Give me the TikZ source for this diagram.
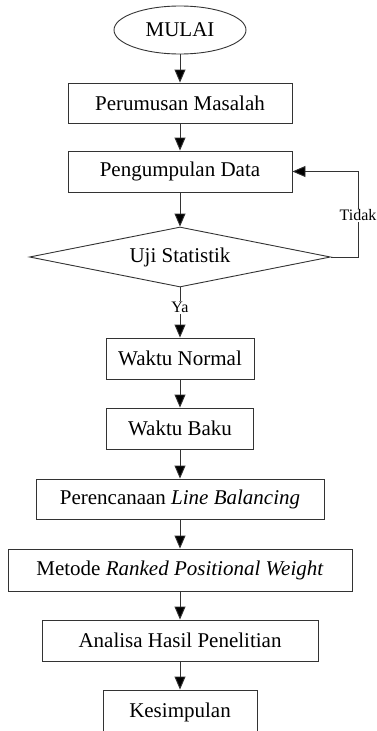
\documentclass[tikz,border=0pt]{standalone}
\usepackage{fontspec}
\setmainfont{Liberation Serif}
\usetikzlibrary{shapes.geometric,arrows.meta}
\begin{document}
\begin{tikzpicture}[x=1pt,y=-1pt,
  line width=0.9pt,
  every node/.style={font=\fontsize{21}{25}\selectfont, inner sep=0pt},
  procbox/.style={draw=black!80, rectangle, line width=0.9pt},
  conn/.style={draw=black!80, line width=0.9pt, -{Triangle[length=13pt,width=11pt,fill=black]}},
  lbl/.style={font=\fontsize{16}{19}\selectfont, fill=white, inner sep=1pt}
]
\useasboundingbox (0,0) rectangle (377,731);
\clip (0,0) rectangle (377,731);
\node[draw=black!80, ellipse, minimum width=132pt, minimum height=48pt] (mulai) at (180,30) {MULAI};
\node[procbox, minimum width=224pt, minimum height=40pt] (perumusan) at (180,103) {Perumusan Masalah};
\node[procbox, minimum width=224pt, minimum height=41pt] (pengumpulan) at (180,171.5) {Pengumpulan Data};
\node[draw=black!80, diamond, aspect=5, minimum width=301pt, minimum height=60pt] (uji) at (180,257) {Uji Statistik};
\node[procbox, minimum width=148pt, minimum height=41pt] (normal) at (180,358.5) {Waktu Normal};
\node[procbox, minimum width=147pt, minimum height=41pt] (baku) at (180,428.5) {Waktu Baku};
\node[procbox, minimum width=288pt, minimum height=40pt] (perencanaan) at (180,499) {Perencanaan \textit{Line Balancing}};
\node[procbox, minimum width=344pt, minimum height=42pt] (metode) at (180,570) {Metode \textit{Ranked Positional Weight}};
\node[procbox, minimum width=276pt, minimum height=41pt] (analisa) at (180,640.5) {Analisa Hasil Penelitian};
\node[procbox, minimum width=154pt, minimum height=44pt] (kesimpulan) at (180,712) {Kesimpulan};
\coordinate (fb) at (358,171.5);
\draw[conn] (mulai) -- (perumusan);
\draw[conn] (perumusan) -- (pengumpulan);
\draw[conn] (pengumpulan) -- (uji.north);
\draw[conn] (uji.south) -- node[lbl, pos=0.4] (ya) {Ya} (normal);
\draw[conn] (normal) -- (baku);
\draw[conn] (baku) -- (perencanaan);
\draw[conn] (perencanaan) -- (metode);
\draw[conn] (metode) -- (analisa);
\draw[conn] (analisa) -- (kesimpulan);
\draw[conn] (uji.east) -| (fb) -- (pengumpulan.east);
\node[lbl] (tidak) at (358,215.5) {Tidak};
\end{tikzpicture}
\end{document}
